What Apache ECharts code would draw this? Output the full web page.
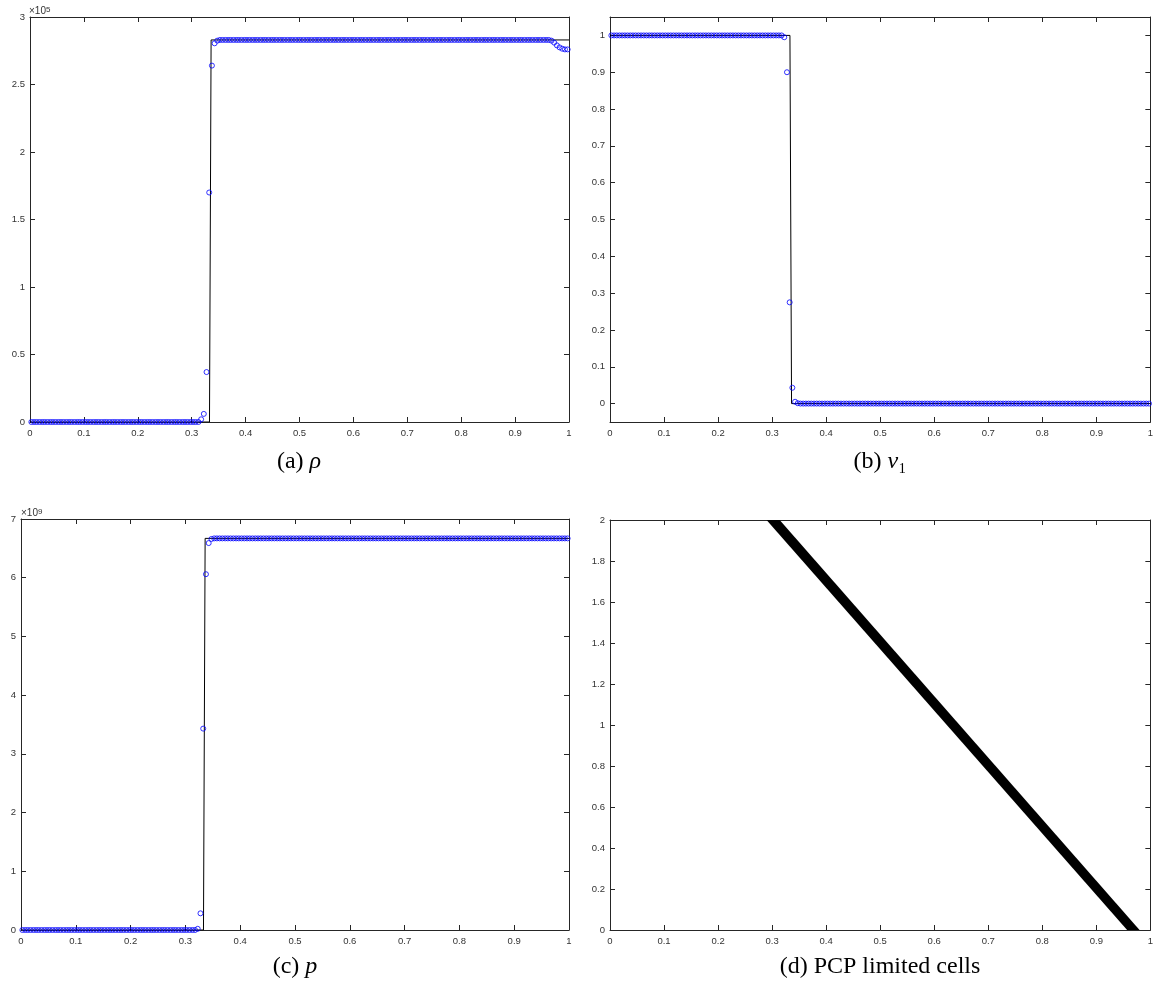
<!DOCTYPE html>
<html>
<head>
<meta charset="utf-8">
<title>shock tube</title>
<script src="https://cdn.jsdelivr.net/npm/echarts@6.0.0/dist/echarts.min.js"></script>
<style>
  html, body { margin: 0; padding: 0; background: #fff; }
  #main { width: 1156px; height: 987px; }
</style>
</head>
<body>
<div id="main"></div>
<script>
// mesh: 200 uniform cells on [0,1], the smeared shock starts at cell 63 (x = 0.3175)
var N = 200;
var shockStart = 63;

// exact solution (black line)
var exactX = [0, 0.333, 0.336, 1];
var rhoExact = [0, 0, 2.83, 2.83];     // x 1e5
var vExact = [1, 1, 0, 0];
var pExact = [0, 0, 6.67, 6.67];       // x 1e9

// numerical solution (blue circles): left state, shock cells, right state, tail near x = 1
var rhoLeft = 0, rhoRight = 2.83;
var rhoShock = [0.02, 0.06, 0.37, 1.70, 2.64, 2.805, 2.825];
var rhoTail = [2.825, 2.81, 2.79, 2.775, 2.765, 2.76, 2.76];

var vLeft = 1, vRight = 0;
var vShock = [1.0, 0.995, 0.9, 0.275, 0.043, 0.005, 0.001];

var pLeft = 0, pRight = 6.67;
var pShock = [0.0, 0.02, 0.284, 3.43, 6.06, 6.59, 6.66];

// PCP limited cells: corners of the band in the (x, t) plane
var pcpBandX = [0.2897, 0.314, 0.980, 0.957];
var pcpBandT = [2, 2, 0, 0];

// tick labels
var vTicks = [0, 0.1, 0.2, 0.3, 0.4, 0.5, 0.6, 0.7, 0.8, 0.9, 1];

var cellX = [];
for (var i = 0; i < N; i++) cellX.push((i + 0.5) / N);

function profile(left, shock, right, tail) {
  var out = [];
  for (var i = 0; i < shockStart; i++) out.push(left);
  out = out.concat(shock);
  while (out.length < N - tail.length) out.push(right);
  return out.concat(tail);
}

function pairs(xs, ys) {
  return xs.map(function (x, i) { return [x, ys[i]]; });
}

var axisColor = '#262626';
var labelFont = 'Liberation Sans, Arial, sans-serif';

var grids = [
  { left: 30, top: 17, width: 539, height: 405 },
  { left: 610, top: 17, width: 541, height: 405 },
  { left: 21, top: 519, width: 548, height: 411 },
  { left: 610, top: 520, width: 541, height: 410 }
];

var xAxes = [], yAxes = [];

function addAxes(g, yCfg) {
  ['bottom', 'top'].forEach(function (pos) {
    xAxes.push({
      gridIndex: g, type: 'value', position: pos,
      min: 0, max: 1, interval: 0.1,
      axisLine: { onZero: false, lineStyle: { color: axisColor, width: 1 } },
      axisTick: { inside: true, length: 5, lineStyle: { color: axisColor } },
      axisLabel: { show: pos === 'bottom', margin: 6, fontSize: 9.5, color: '#333', fontFamily: labelFont },
      splitLine: { show: false }
    });
  });
  ['left', 'right'].forEach(function (pos) {
    var ax = {
      gridIndex: g, type: 'value', position: pos,
      min: yCfg.min, max: yCfg.max,
      axisLine: { onZero: false, lineStyle: { color: axisColor, width: 1 } },
      axisTick: { inside: true, length: 5, lineStyle: { color: axisColor } },
      axisLabel: { show: pos === 'left', margin: 5, fontSize: 9.5, color: '#333', fontFamily: labelFont },
      splitLine: { show: false }
    };
    if (yCfg.ticks) {
      ax.axisTick.customValues = yCfg.ticks;
      ax.axisLabel.customValues = yCfg.ticks;
    } else {
      ax.interval = yCfg.interval;
    }
    yAxes.push(ax);
  });
}

addAxes(0, { min: 0, max: 3, interval: 0.5 });
addAxes(1, { min: -0.05, max: 1.05, ticks: vTicks });
addAxes(2, { min: 0, max: 7, interval: 1 });
addAxes(3, { min: 0, max: 2, interval: 0.2 });

function exactSeries(g, ys) {
  return {
    type: 'line', xAxisIndex: 2 * g, yAxisIndex: 2 * g,
    data: pairs(exactX, ys), showSymbol: false, silent: true,
    lineStyle: { color: '#000', width: 1 }, z: 2
  };
}

function numSeries(g, ys) {
  return {
    type: 'scatter', xAxisIndex: 2 * g, yAxisIndex: 2 * g,
    data: pairs(cellX, ys), symbol: 'circle', symbolSize: 5, clip: false, silent: true,
    itemStyle: { color: 'rgba(0,0,0,0)', borderColor: '#0000ff', borderWidth: 1 }, z: 3
  };
}

var bandData = pairs(pcpBandX, pcpBandT);

var series = [
  exactSeries(0, rhoExact),
  numSeries(0, profile(rhoLeft, rhoShock, rhoRight, rhoTail)),
  exactSeries(1, vExact),
  numSeries(1, profile(vLeft, vShock, vRight, [])),
  exactSeries(2, pExact),
  numSeries(2, profile(pLeft, pShock, pRight, [])),
  {
    // band of limited cells, drawn once from all its corners
    type: 'custom', xAxisIndex: 6, yAxisIndex: 6, silent: true,
    data: bandData,
    renderItem: function (params, api) {
      if (params.dataIndex !== 0) return;
      var pts = bandData.map(function (d) { return api.coord(d); });
      return { type: 'polygon', shape: { points: pts }, style: { fill: '#000' } };
    }
  }
];

var capFont = 'Liberation Serif, DejaVu Serif, serif';
function caption(x, y, text) {
  return {
    type: 'text', x: x, y: y, silent: true,
    style: {
      text: text, fill: '#000', align: 'center', verticalAlign: 'middle',
      fontSize: 24, fontFamily: capFont,
      rich: { i: { fontSize: 24, fontStyle: 'italic', fontFamily: capFont } }
    }
  };
}
function exponent(x, y, pow) {
  return {
    type: 'text', x: x, y: y, silent: true,
    style: {
      text: '{b|\u00d710}{s|' + pow + '}', fill: '#333', align: 'left', verticalAlign: 'bottom',
      rich: {
        b: { fontSize: 10, fontFamily: labelFont, fill: '#333' },
        s: { fontSize: 8, fontFamily: labelFont, fill: '#333', verticalAlign: 'top' }
      }
    }
  };
}

var chart = echarts.init(document.getElementById('main'));
chart.setOption({
  animation: false,
  backgroundColor: '#fff',
  grid: grids,
  xAxis: xAxes,
  yAxis: yAxes,
  series: series,
  graphic: [
    exponent(29, 16, 5),
    exponent(21, 518, 9),
    caption(299, 462, '(a) {i|\u03c1}'),
    caption(880, 462, '(b) {i|v}\u2081'),
    caption(295, 967, '(c) {i|p}'),
    caption(880, 967, '(d) PCP limited cells')
  ]
});
</script>
</body>
</html>
